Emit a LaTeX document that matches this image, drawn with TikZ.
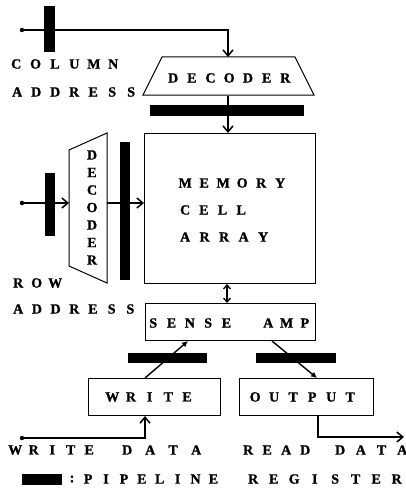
\documentclass[tikz,border=0pt]{standalone}
\usepackage{fontspec}
\setmainfont{Liberation Serif}[BoldFeatures={FakeBold=1.2}]
\usetikzlibrary{arrows.meta}
% letters set on a fixed pitch, one box per letter
\makeatletter
\newcommand\spaced[2]{\@tfor\ch:=#2\do{\makebox[#1]{\ch}}}
\makeatother
\tikzset{
  lbl/.style={inner sep=0pt, anchor=west, font=\bfseries\fontsize{14}{16}\selectfont},
  reg/.style={fill=black, draw=none, inner sep=0pt},
  box/.style={draw, line width=1pt, inner sep=0pt, anchor=north west},
  wire/.style={line width=1.4pt},
  tip/.style={-{Straight Barb[length=6pt,width=10pt,line width=1.5pt]}},
  bothtips/.style={{Straight Barb[length=4pt,width=7pt,line width=1.3pt]}-{Straight Barb[length=4pt,width=7pt,line width=1.3pt]}},
  smalltip/.style={-{Latex[length=6pt,width=6pt]}},
  dot/.style={circle, fill=black, inner sep=0pt, minimum size=4.5pt},
}
\begin{document}
\begin{tikzpicture}[x=1pt,y=-1pt]
\useasboundingbox (0,0) rectangle (406,495);

% ---------- column decoder ----------
\coordinate (cdecTL) at (162,57);
\coordinate (cdecTR) at (295,57);
\coordinate (cdecBR) at (314,95);
\coordinate (cdecBL) at (143,95);
\coordinate (cdecT) at (228,57);
\coordinate (cdecB) at (228,96);
\draw[line width=1pt] (cdecTL) -- (cdecTR) -- (cdecBR) -- (cdecBL) -- cycle;
\node[lbl] (cdectext) at (163.6,78) {\spaced{18.7pt}{DECODER}};

% ---------- registers ----------
\node[reg, minimum width=11pt, minimum height=46pt] (r1) at (49,29.5) {};
\node[reg, minimum width=154pt, minimum height=11pt] (r2) at (227,110) {};
\node[reg, minimum width=10pt, minimum height=63pt] (r3) at (50,204.5) {};
\node[reg, minimum width=10pt, minimum height=138pt] (r4) at (125,211) {};
\node[reg, minimum width=79pt, minimum height=10pt] (r5) at (167.5,358) {};
\node[reg, minimum width=80pt, minimum height=10pt] (r6) at (296,358) {};

% ---------- memory array ----------
\node[box, minimum width=171pt, minimum height=150pt] (array) at (144,133) {};
\node[lbl] (mem1) at (175.5,183) {\spaced{19pt}{MEMORY}};
\node[lbl] (mem2) at (175.6,210) {\spaced{18.7pt}{CELL}};
\node[lbl] (mem3) at (175.2,237) {\spaced{19.5pt}{ARRAY}};

% ---------- row decoder ----------
\coordinate (rdecTL) at (69,150);
\coordinate (rdecTR) at (107,133);
\coordinate (rdecBR) at (107,283);
\coordinate (rdecBL) at (69,266);
\coordinate (rdecL) at (69,203);
\coordinate (rdecR) at (107,203);
\draw[line width=1pt] (rdecTL) -- (rdecTR) -- (rdecBR) -- (rdecBL) -- cycle;
\node[inner sep=0pt, align=center, font=\bfseries\fontsize{14}{17.5}\selectfont]
  (rdectext) at (92,207.5) {D\\E\\C\\O\\D\\E\\R};

% ---------- sense amp, write, output ----------
\node[box, minimum width=170pt, minimum height=37pt] (sense) at (145,303) {};
\node[lbl] (sense1) at (143.9,323) {\spaced{18.3pt}{SENSE}};
\node[lbl] (sense2) at (258.9,323) {\spaced{18.3pt}{AMP}};
\node[box, minimum width=132pt, minimum height=37pt] (write) at (88,378) {};
\node[lbl] (writetext) at (102.7,397) {\spaced{18.7pt}{WRITE}};
\node[box, minimum width=134pt, minimum height=37pt] (output) at (239,378) {};
\node[lbl] (outtext) at (245.5,397) {\spaced{19pt}{OUTPUT}};

% ---------- address inputs ----------
\node[dot] (cdot) at (22,30) {};
\draw[wire, tip] (cdot.center) -| (cdecT);
\node[lbl] (colw1) at (6.3,64) {\spaced{19.4pt}{COLUMN}};
\node[lbl] (colw2) at (7.5,92) {\spaced{19pt}{ADDRESS}};
\draw[wire, tip] (cdecB) -- (array.north -| cdecB);

\node[dot] (rdot) at (22,203) {};
\draw[wire, tip] (rdot.center) -- (rdecL);
\draw[wire, tip] (rdecR) -- (rdecR -| array.west);
\node[lbl] (roww1) at (8.75,283) {\spaced{18.5pt}{ROW}};
\node[lbl] (roww2) at (8.65,309) {\spaced{18.7pt}{ADDRESS}};

% ---------- array <-> sense amp ----------
\coordinate (dblx) at (227,0);
\draw[wire, bothtips] (array.south -| dblx) -- (sense.north -| dblx);

% ---------- sense amp <-> write / output ----------
\coordinate (wrx) at (145,0);
\coordinate (sawx) at (188,0);
\coordinate (sarx) at (272,0);
\coordinate (outx) at (317,0);
\draw[wire, smalltip] (write.north -| wrx) -- (sense.south -| sawx);
\draw[wire, smalltip] (sense.south -| sarx) -- (output.north -| outx);

% ---------- data lines ----------
\node[dot] (wdot) at (22,438) {};
\draw[wire, tip] (wdot.center) -| (write.south -| wrx);
\coordinate (rdend) at (404,437);
\coordinate (rdx) at (318,0);
\draw[wire, tip] (output.south -| rdx) |- (rdend);
\node[lbl] (wd1) at (5.75,450) {\spaced{18.5pt}{WRITE}};
\node[lbl] (wd2) at (115.5,450) {\spaced{23pt}{DATA}};
\node[lbl] (rd1) at (238.5,450) {\spaced{19pt}{READ}};
\node[lbl] (rd2) at (329.6,450) {\spaced{20.7pt}{DATA}};

% ---------- legend ----------
\node[reg, minimum width=40pt, minimum height=11pt] (legreg) at (42,479) {};
\node[inner sep=0pt, font=\bfseries\fontsize{14}{16}\selectfont] (legcolon) at (72,479) {:};
\node[lbl] (leg1) at (79,479) {\spaced{17.9pt}{PIPELINE}};
\node[lbl] (leg2) at (242.75,479) {\spaced{20.5pt}{REGISTER}};
\end{tikzpicture}
\end{document}
